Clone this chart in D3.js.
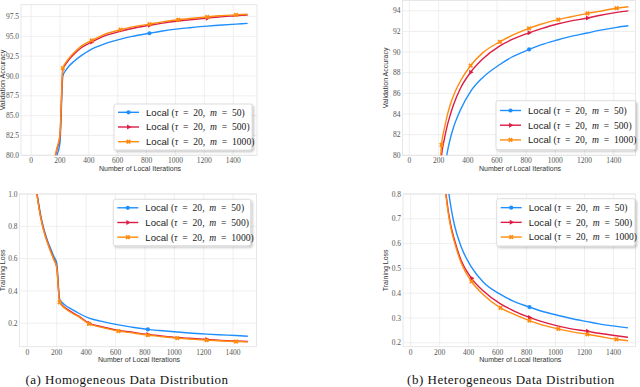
<!DOCTYPE html>
<html>
<head>
<meta charset="utf-8">
<script src="https://cdn.jsdelivr.net/npm/d3@7"></script>
<style>
  body { margin: 0; background: #fff; }
  svg { display: block; }
</style>
</head>
<body>
<svg id="chart" width="640" height="387"></svg>
<script>
// series labels / colours
const mValues = ["50", "500", "1000"];
const colors = ["#1f8fff", "#dc1e46", "#ff8c0f"];

// (a) homogeneous - validation accuracy
const homAccX = [140, 160, 180, 200, 220, 240, 260, 300, 350, 420, 500, 620, 700, 820, 900, 1020, 1100, 1220, 1300, 1420, 1500];
const homAccM50 = [75, 78.2, 80.0, 81.6, 90.0, 90.7, 91.2, 91.9, 92.6, 93.4, 94.0, 94.65, 95.0, 95.4, 95.65, 95.95, 96.1, 96.3, 96.4, 96.55, 96.65];
const homAccM500 = [75.8, 79.1, 80.8, 82.4, 90.8, 91.5, 92.0, 92.8, 93.6, 94.3, 95.0, 95.65, 96.0, 96.4, 96.65, 96.95, 97.1, 97.3, 97.45, 97.6, 97.7];
const homAccM1000 = [76, 79.3, 81.0, 82.6, 91.0, 91.7, 92.2, 93.0, 93.8, 94.5, 95.2, 95.85, 96.2, 96.55, 96.8, 97.1, 97.25, 97.45, 97.6, 97.72, 97.8];

// (b) heterogeneous - validation accuracy
const hetAccX = [200, 220, 240, 260, 280, 300, 350, 420, 500, 620, 700, 820, 900, 1020, 1100, 1220, 1300, 1420, 1500];
const hetAccM50 = [72, 75.5, 78.3, 80.3, 81.6, 82.6, 84.4, 86.2, 87.5, 88.8, 89.5, 90.26, 90.7, 91.2, 91.5, 91.85, 92.1, 92.4, 92.55];
const hetAccM500 = [75, 79.9, 81.6, 82.9, 83.9, 84.8, 86.5, 88.05, 89.3, 90.6, 91.2, 91.87, 92.25, 92.75, 93.0, 93.3, 93.55, 93.85, 94.0];
const hetAccM1000 = [76, 81.0, 82.6, 83.9, 84.9, 85.7, 87.2, 88.7, 89.9, 91.0, 91.6, 92.3, 92.7, 93.15, 93.4, 93.75, 93.95, 94.25, 94.4];

// (a) homogeneous - training loss
const homLossX = [40, 60, 80, 100, 120, 140, 160, 180, 200, 220, 240, 260, 300, 350, 420, 500, 620, 700, 820, 900, 1020, 1100, 1220, 1300, 1420, 1500];
const homLossM50 = [1.26, 1.05, 0.925, 0.83, 0.76, 0.705, 0.66, 0.615, 0.575, 0.35, 0.325, 0.31, 0.288, 0.262, 0.232, 0.213, 0.19, 0.178, 0.162, 0.155, 0.146, 0.14, 0.133, 0.129, 0.124, 0.12];
const homLossM500 = [1.25, 1.045, 0.915, 0.82, 0.75, 0.695, 0.645, 0.6, 0.55, 0.335, 0.31, 0.294, 0.27, 0.244, 0.2, 0.18, 0.156, 0.146, 0.131, 0.123, 0.112, 0.107, 0.1, 0.095, 0.09, 0.087];
const homLossM1000 = [1.25, 1.04, 0.91, 0.815, 0.745, 0.69, 0.64, 0.595, 0.545, 0.33, 0.305, 0.29, 0.265, 0.24, 0.196, 0.176, 0.152, 0.142, 0.127, 0.119, 0.108, 0.103, 0.096, 0.092, 0.087, 0.085];

// (b) heterogeneous - training loss
const hetLossX = [200, 220, 240, 260, 280, 300, 350, 420, 500, 620, 700, 820, 900, 1020, 1100, 1220, 1300, 1420, 1500];
const hetLossM50 = [1.4, 1.15, 0.95, 0.82, 0.74, 0.68, 0.585, 0.505, 0.445, 0.395, 0.37, 0.344, 0.328, 0.31, 0.299, 0.285, 0.276, 0.266, 0.26];
const hetLossM500 = [1.17, 0.95, 0.82, 0.73, 0.665, 0.62, 0.53, 0.46, 0.41, 0.357, 0.332, 0.302, 0.286, 0.267, 0.257, 0.246, 0.238, 0.228, 0.222];
const hetLossM1000 = [1.15, 0.94, 0.81, 0.72, 0.655, 0.61, 0.52, 0.447, 0.395, 0.341, 0.318, 0.289, 0.273, 0.256, 0.246, 0.234, 0.226, 0.214, 0.208];

// ticks
const xTicks = [0, 200, 400, 600, 800, 1000, 1200, 1400];
const homAccTicks = [80.0, 82.5, 85.0, 87.5, 90.0, 92.5, 95.0, 97.5];
const hetAccTicks = [80, 82, 84, 86, 88, 90, 92, 94];
const homLossTicks = [0.2, 0.4, 0.6, 0.8, 1.0];
const hetLossTicks = [0.2, 0.3, 0.4, 0.5, 0.6, 0.7, 0.8];

// markers: blue every 800, red every 400, orange every 200 (offset 20)
const markerEvery = [800, 400, 200];

const captions = ["(a) Homogeneous Data Distribution", "(b) Heterogeneous Data Distribution"];

const svg = d3.select("#chart");
const serif = "'Liberation Serif', 'DejaVu Serif', serif";
const sans = "'Liberation Sans', 'DejaVu Sans', sans-serif";

const panels = [
  {
    id: "p1", x: [21, 257], xd: [-70, 1565], y: [155.3, 4.7], yd: [80, 99.0],
    xs: homAccX, ys: [homAccM50, homAccM500, homAccM1000],
    yTicks: homAccTicks, fmt: d3.format(".1f"), ylabel: "Validation Accuracy", ylx: 5,
    legend: [114, 104, 138, 46]
  },
  {
    id: "p2", x: [402.5, 635.5], xd: [-47, 1549], y: [155.3, 0.5], yd: [80, 95],
    xs: hetAccX, ys: [hetAccM50, hetAccM500, hetAccM1000],
    yTicks: hetAccTicks, fmt: d3.format("d"), ylabel: "Validation Accuracy", ylx: 388,
    legend: [496, 100.7, 139.5, 49]
  },
  {
    id: "p3", x: [19.5, 256.5], xd: [-53, 1559], y: [346.7, 194], yd: [0.055, 1.0],
    xs: homLossX, ys: [homLossM50, homLossM500, homLossM1000],
    yTicks: homLossTicks, fmt: d3.format(".1f"), ylabel: "Training Loss", ylx: 5,
    legend: [113.3, 199.3, 137.4, 46.4]
  },
  {
    id: "p4", x: [403, 635.5], xd: [-53, 1552], y: [346.7, 194], yd: [0.184, 0.8],
    xs: hetLossX, ys: [hetLossM50, hetLossM500, hetLossM1000],
    yTicks: hetLossTicks, fmt: d3.format(".1f"), ylabel: "Training Loss", ylx: 388,
    legend: [496.7, 198.7, 138.3, 47.3]
  }
];

const defs = svg.append("defs");
const shadow = defs.append("filter").attr("id", "shadow").attr("x", "-10%").attr("y", "-10%")
  .attr("width", "130%").attr("height", "140%");
shadow.append("feDropShadow").attr("dx", 1.5).attr("dy", 1.5).attr("stdDeviation", 0.8)
  .attr("flood-color", "#000").attr("flood-opacity", 0.25);

function marker(g, i, x, y) {
  if (i === 0) {
    g.append("circle").attr("cx", x).attr("cy", y).attr("r", 2.1).attr("fill", colors[i]);
  } else if (i === 1) {
    g.append("path").attr("d", d3.symbol(d3.symbolTriangle, 11)())
      .attr("transform", `translate(${x},${y}) rotate(90)`).attr("fill", colors[i]);
  } else {
    g.append("path").attr("d", d3.symbol(d3.symbolCross, 14)())
      .attr("transform", `translate(${x},${y}) rotate(45)`).attr("fill", colors[i]);
  }
}

panels.forEach((p) => {
  const x = d3.scaleLinear().domain(p.xd).range(p.x);
  const y = d3.scaleLinear().domain(p.yd).range(p.y);
  const g = svg.append("g").attr("class", p.id);

  // grid
  g.append("g").selectAll("line").data(xTicks).join("line")
    .attr("x1", (d) => x(d)).attr("x2", (d) => x(d))
    .attr("y1", p.y[0]).attr("y2", p.y[1])
    .attr("stroke", "#ebebeb").attr("stroke-width", 0.8);
  g.append("g").selectAll("line").data(p.yTicks).join("line")
    .attr("x1", p.x[0]).attr("x2", p.x[1])
    .attr("y1", (d) => y(d)).attr("y2", (d) => y(d))
    .attr("stroke", "#ebebeb").attr("stroke-width", 0.8);

  // frame
  g.append("rect").attr("x", p.x[0]).attr("y", p.y[1])
    .attr("width", p.x[1] - p.x[0]).attr("height", p.y[0] - p.y[1])
    .attr("fill", "none").attr("stroke", "#e2e2e2").attr("stroke-width", 0.8);

  // tick labels
  g.append("g").selectAll("text").data(xTicks).join("text")
    .attr("x", (d) => x(d)).attr("y", p.y[0] + 7.8)
    .attr("text-anchor", "middle").attr("font-family", serif).attr("font-size", 7.5)
    .attr("fill", "#555").text((d) => d);
  g.append("g").selectAll("text").data(p.yTicks).join("text")
    .attr("x", p.x[0] - 2).attr("y", (d) => y(d) + 2.6)
    .attr("text-anchor", "end").attr("font-family", serif).attr("font-size", 7.5)
    .attr("fill", "#555").text((d) => p.fmt(d));

  // axis labels
  g.append("text").attr("x", (p.x[0] + p.x[1]) / 2 + 1).attr("y", p.y[0] + 15.5)
    .attr("text-anchor", "middle").attr("font-family", sans).attr("font-size", 7)
    .attr("fill", "#333").text("Number of Local Iterations");
  g.append("text")
    .attr("transform", `translate(${p.ylx},${(p.y[0] + p.y[1]) / 2}) rotate(-90)`)
    .attr("text-anchor", "middle").attr("font-family", sans).attr("font-size", 7)
    .attr("fill", "#333").text(p.ylabel);

  // clipped lines
  const clipId = "clip-" + p.id;
  defs.append("clipPath").attr("id", clipId).append("rect")
    .attr("x", p.x[0]).attr("y", p.y[1])
    .attr("width", p.x[1] - p.x[0]).attr("height", p.y[0] - p.y[1]);
  const plot = g.append("g").attr("clip-path", `url(#${clipId})`);

  const line = d3.line().x((d) => x(d[0])).y((d) => y(d[1])).curve(d3.curveMonotoneX);
  p.ys.forEach((vals, i) => {
    const pts = p.xs.map((xv, k) => [xv, vals[k]]);
    plot.append("path").datum(pts).attr("d", line)
      .attr("fill", "none").attr("stroke", colors[i]).attr("stroke-width", 1.4);
    pts.filter((d) => (d[0] - 20) % markerEvery[i] === 0)
      .forEach((d) => marker(plot, i, x(d[0]), y(d[1])));
  });

  // legend
  const [lx, ly, lw, lh] = p.legend;
  const lg = g.append("g");
  lg.append("rect").attr("x", lx).attr("y", ly).attr("width", lw).attr("height", lh)
    .attr("rx", 2).attr("fill", "#fff").attr("stroke", "#d5d5d5").attr("stroke-width", 0.8)
    .attr("filter", "url(#shadow)");
  mValues.forEach((m, i) => {
    const ry = ly + lh / 2 + (i - 1) * 14.7;
    lg.append("line").attr("x1", lx + 4).attr("x2", lx + 25).attr("y1", ry).attr("y2", ry)
      .attr("stroke", colors[i]).attr("stroke-width", 1.4);
    marker(lg, i, lx + 14.5, ry);
    const t = lg.append("text").attr("x", lx + 32).attr("y", ry + 3.3)
      .attr("font-size", 9.6).attr("fill", "#222").attr("xml:space", "preserve");
    t.append("tspan").attr("font-family", sans).text("Local ");
    t.append("tspan").attr("font-family", serif).text("(");
    t.append("tspan").attr("font-family", serif).attr("font-style", "italic").text("τ");
    t.append("tspan").attr("font-family", serif).text("\u2002=\u200220,\u2002");
    t.append("tspan").attr("font-family", serif).attr("font-style", "italic").text("m");
    t.append("tspan").attr("font-family", serif).text("\u2002=\u2002" + m + ")");
  });
});

// captions
svg.selectAll("text.caption").data(captions).join("text").attr("class", "caption")
  .attr("x", (d, i) => (i === 0 ? 127 : 511)).attr("y", 384)
  .attr("text-anchor", "middle").attr("font-family", serif).attr("font-size", 13)
  .attr("letter-spacing", 0.5).attr("fill", "#111").text((d) => d);
</script>
</body>
</html>
